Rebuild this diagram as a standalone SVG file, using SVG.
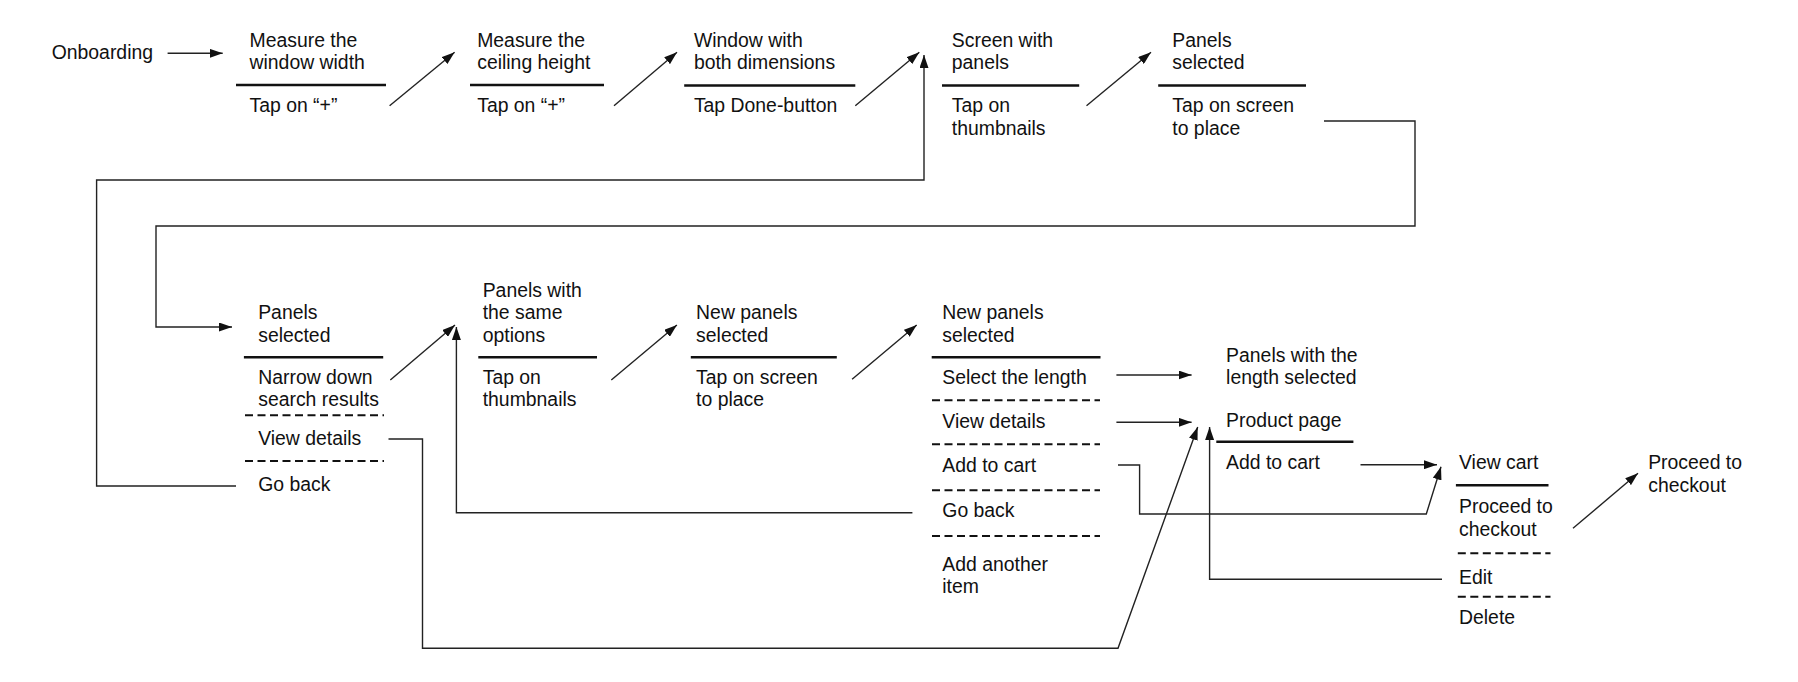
<svg xmlns="http://www.w3.org/2000/svg" width="1798" height="682" viewBox="0 0 1798 682">
<style>
text{font-family:"Liberation Sans",Arial,sans-serif;font-size:19.4px;fill:#111}
.hd{stroke:#111;stroke-width:2.6;fill:none}
.ds{stroke:#111;stroke-width:2;stroke-dasharray:8 4.5;fill:none}
.cn{stroke:#222;stroke-width:1.4;fill:none}
.ar{marker-end:url(#ah)}
</style>
<defs>
<marker id="ah" markerUnits="userSpaceOnUse" markerWidth="14" markerHeight="9" refX="13" refY="4.5" orient="auto">
<path d="M0,0 L13,4.5 L0,9 z" fill="#111"/>
</marker>
</defs>
<rect width="1798" height="682" fill="#fff"/>
<g id="connectors">
<path class="cn ar" d="M167.6,53.3 H222.7"/>
<path class="cn ar" d="M389.6,105.7 L454.6,52.3"/>
<path class="cn ar" d="M614,105.7 L677,52.3"/>
<path class="cn ar" d="M855.3,105.7 L919.3,52.3"/>
<path class="cn ar" d="M1086.5,105.7 L1151,52.3"/>
<path class="cn ar" d="M1324,121 H1415 V226 H156 V327 H232"/>
<path class="cn ar" d="M236,486 H96.6 V180 H924 V55"/>
<path class="cn ar" d="M390.3,380 L455,325"/>
<path class="cn ar" d="M611.3,380 L676.9,325"/>
<path class="cn ar" d="M852.1,379.3 L916.7,325"/>
<path class="cn ar" d="M912.4,512.7 H456.4 V327"/>
<path class="cn ar" d="M388.5,439 H422.5 V648.3 H1118 L1197.7,427"/>
<path class="cn ar" d="M1116.4,375 H1191.6"/>
<path class="cn ar" d="M1116.4,422.3 H1191.6"/>
<path class="cn ar" d="M1118,465 H1139.6 V514 H1426.3 L1441,466.7"/>
<path class="cn ar" d="M1442,579.3 H1209.6 V427"/>
<path class="cn ar" d="M1360.5,464.7 H1437"/>
<path class="cn ar" d="M1573,528.3 L1638,473.3"/>
</g>
<g id="onboarding"><text x="51.7" y="59">Onboarding</text></g>
<g id="measure-width">
<text x="249.5" y="46.7">Measure the</text><text x="249.5" y="69.3">window width</text>
<path class="hd" d="M236,85 H386"/>
<text x="249.5" y="112.3">Tap on “+”</text>
</g>
<g id="measure-height">
<text x="477.2" y="46.7">Measure the</text><text x="477.2" y="69.3">ceiling height</text>
<path class="hd" d="M470,85 H604"/>
<text x="477.2" y="112.3">Tap on “+”</text>
</g>
<g id="window-dimensions">
<text x="693.9" y="46.7">Window with</text><text x="693.9" y="69.3">both dimensions</text>
<path class="hd" d="M684.2,85.5 H855.3"/>
<text x="693.9" y="112.3">Tap Done-button</text>
</g>
<g id="screen-panels">
<text x="951.8" y="46.7">Screen with</text><text x="951.8" y="69.3">panels</text>
<path class="hd" d="M942,85.5 H1079.2"/>
<text x="951.8" y="112.3">Tap on</text><text x="951.8" y="135">thumbnails</text>
</g>
<g id="panels-selected-1">
<text x="1172.3" y="46.7">Panels</text><text x="1172.3" y="69.3">selected</text>
<path class="hd" d="M1158.2,85.5 H1306"/>
<text x="1172.3" y="112.3">Tap on screen</text><text x="1172.3" y="135">to place</text>
</g>
<g id="panels-selected-2">
<text x="258.2" y="319.3">Panels</text><text x="258.2" y="342">selected</text>
<path class="hd" d="M243.9,357.3 H383.2"/>
<text x="258.2" y="384">Narrow down</text><text x="258.2" y="406.3">search results</text>
<path class="ds" d="M245,415.3 H384"/>
<text x="258.2" y="445">View details</text>
<path class="ds" d="M245,461 H384"/>
<text x="258.2" y="490.7">Go back</text>
</g>
<g id="panels-same-options">
<text x="482.7" y="296.7">Panels with</text><text x="482.7" y="319.3">the same</text><text x="482.7" y="342">options</text>
<path class="hd" d="M478.3,357.3 H597"/>
<text x="482.7" y="384">Tap on</text><text x="482.7" y="406.3">thumbnails</text>
</g>
<g id="new-panels-1">
<text x="696.1" y="319.3">New panels</text><text x="696.1" y="342">selected</text>
<path class="hd" d="M690.8,357.3 H836.8"/>
<text x="696.1" y="384">Tap on screen</text><text x="696.1" y="406.3">to place</text>
</g>
<g id="new-panels-2">
<text x="942.3" y="319.3">New panels</text><text x="942.3" y="342">selected</text>
<path class="hd" d="M931.7,357.3 H1100.5"/>
<text x="942.3" y="384">Select the length</text>
<path class="ds" d="M932,400.3 H1100"/>
<text x="942.3" y="428.3">View details</text>
<path class="ds" d="M932,444.3 H1100"/>
<text x="942.3" y="472.3">Add to cart</text>
<path class="ds" d="M932,490.3 H1100"/>
<text x="942.3" y="517.3">Go back</text>
<path class="ds" d="M932,536 H1100"/>
<text x="942.3" y="571">Add another</text><text x="942.3" y="593.3">item</text>
</g>
<g id="length-selected">
<text x="1226.1" y="361.7">Panels with the</text><text x="1226.1" y="384">length selected</text>
</g>
<g id="product-page">
<text x="1226.1" y="426.7">Product page</text>
<path class="hd" d="M1216.3,441.7 H1353.4"/>
<text x="1226.1" y="469.3">Add to cart</text>
</g>
<g id="view-cart">
<text x="1459" y="469.3">View cart</text>
<path class="hd" d="M1455.9,485.3 H1548.5"/>
<text x="1459" y="513.3">Proceed to</text><text x="1459" y="535.7">checkout</text>
<path class="ds" d="M1457.8,553.3 H1550.5"/>
<text x="1459" y="584">Edit</text>
<path class="ds" d="M1457.8,596.7 H1550.5"/>
<text x="1459" y="624">Delete</text>
</g>
<g id="checkout">
<text x="1648.2" y="469.3">Proceed to</text><text x="1648.2" y="491.7">checkout</text>
</g>
</svg>
